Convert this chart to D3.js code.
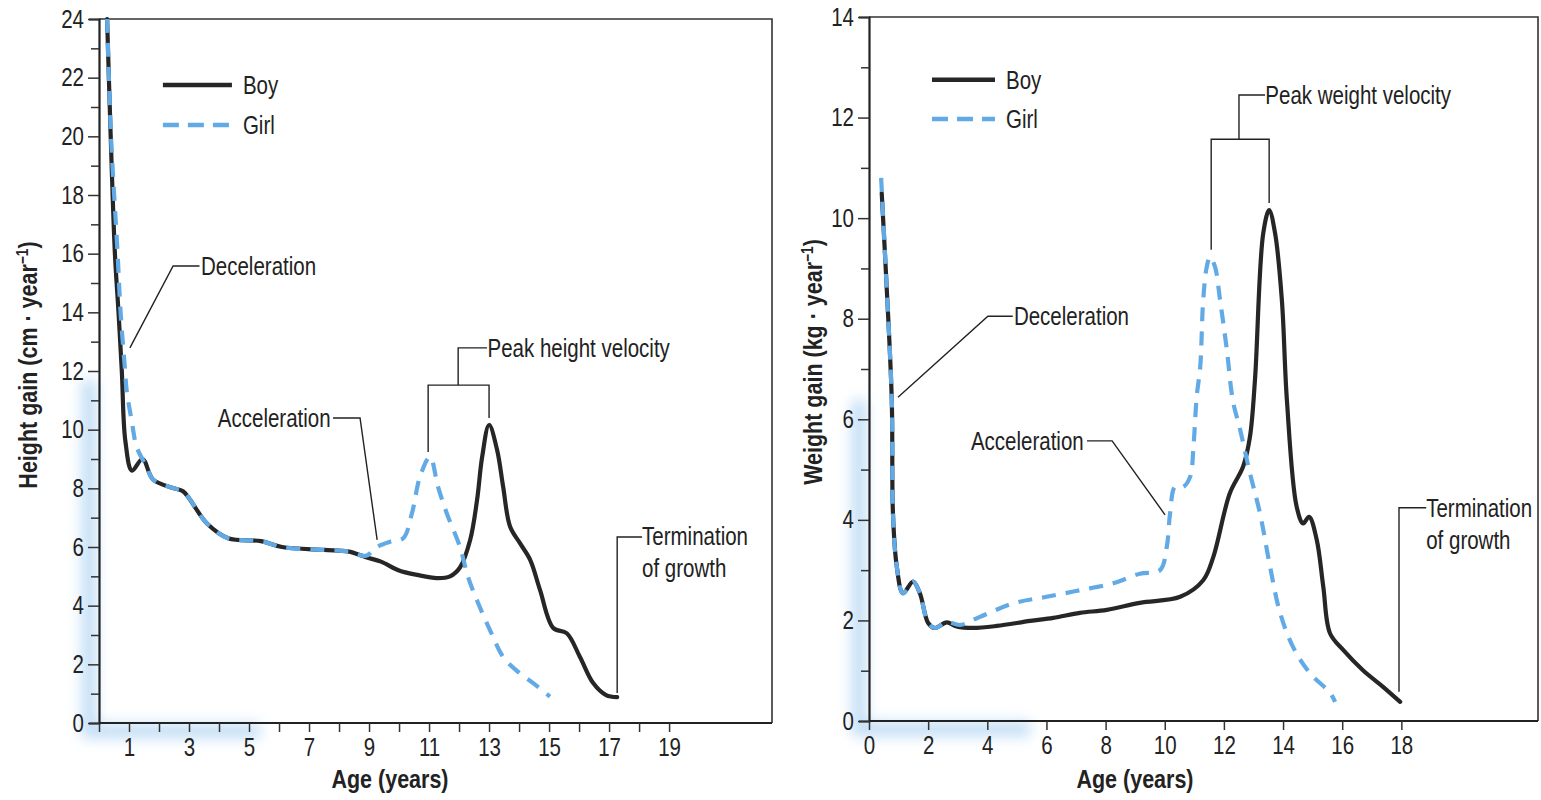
<!DOCTYPE html>
<html>
<head>
<meta charset="utf-8">
<script src="https://cdn.jsdelivr.net/npm/d3@7"></script>
<style>
  body { margin: 0; background: #fff; }
  svg text { font-family: "Liberation Sans", Arial, sans-serif; fill: #222; }
</style>
</head>
<body>
<div id="chart"></div>
<script>
// Height velocity (cm / year)
const heightBoyAge = [0.27, 0.39, 0.53, 0.65, 0.76, 0.88, 1.1, 1.45, 1.8, 2.5, 2.8, 3.6, 4.3, 5.4, 6.1, 7.5, 8.3, 8.9, 9.4, 10.0, 10.6, 11.26, 11.7, 12.03, 12.37, 12.6, 12.77, 13.0, 13.27, 13.47, 13.7, 14.03, 14.37, 14.7, 15.14, 15.59, 16.03, 16.47, 16.9, 17.27];
const heightBoy = [24, 20, 16, 14, 12, 9.6, 8.6, 9.0, 8.3, 8.0, 7.9, 6.8, 6.3, 6.2, 6.0, 5.9, 5.85, 5.65, 5.5, 5.2, 5.05, 4.94, 5.0, 5.3, 6.24, 7.6, 9.07, 10.16, 9.3, 8.05, 6.7, 6.13, 5.56, 4.53, 3.24, 3.06, 2.25, 1.36, 0.95, 0.88];
const heightGirlAge = [0.27, 0.4, 0.62, 0.72, 0.87, 0.92, 1.09, 1.26, 1.59, 1.8, 2.5, 2.8, 3.6, 4.3, 5.4, 6.1, 7.5, 8.3, 8.9, 9.26, 9.7, 10.14, 10.43, 10.7, 11.03, 11.3, 11.59, 12.03, 12.3, 12.59, 13.03, 13.47, 13.9, 14.47, 15.03];
const heightGirl = [24, 20, 16, 14, 12, 11.35, 10.3, 9.4, 8.73, 8.3, 8.0, 7.9, 6.8, 6.3, 6.2, 6.0, 5.9, 5.85, 5.7, 6.0, 6.18, 6.3, 7.15, 8.4, 9.07, 8.05, 7.15, 6.0, 4.98, 4.2, 3.17, 2.25, 1.8, 1.36, 0.9];

// Weight velocity (kg / year)
const weightBoyAge = [0.43, 0.58, 0.77, 0.81, 0.94, 1.15, 1.49, 1.72, 2.0, 2.23, 2.63, 2.96, 3.52, 4.32, 5.45, 6.23, 7.13, 8.04, 9.16, 10.52, 11.3, 11.64, 12.2, 12.65, 12.88, 13.05, 13.33, 13.53, 13.73, 13.96, 14.13, 14.46, 14.68, 14.88, 15.14, 15.36, 15.59, 16.04, 16.7, 17.38, 17.96];
const weightBoy = [10.5, 8.83, 6.38, 4.13, 3.07, 2.54, 2.77, 2.54, 1.95, 1.85, 1.96, 1.88, 1.85, 1.89, 1.99, 2.05, 2.15, 2.21, 2.35, 2.47, 2.8, 3.26, 4.53, 5.06, 5.65, 6.78, 9.7, 10.16, 9.7, 8.37, 6.38, 4.26, 3.93, 4.06, 3.6, 2.67, 1.74, 1.41, 1.01, 0.68, 0.38];
const weightGirlAge = [0.41, 0.58, 0.77, 0.81, 0.94, 1.15, 1.49, 1.72, 2.0, 2.23, 2.63, 3.08, 3.75, 4.88, 6.0, 7.13, 8.26, 9.16, 9.84, 10.07, 10.18, 10.35, 10.63, 10.86, 10.97, 11.08, 11.2, 11.3, 11.42, 11.53, 11.7, 11.87, 12.1, 12.3, 12.55, 12.88, 13.22, 13.56, 13.9, 14.34, 14.91, 15.59, 15.76];
const weightGirl = [10.8, 8.83, 6.38, 4.13, 3.07, 2.54, 2.77, 2.54, 1.95, 1.85, 1.97, 1.91, 2.07, 2.34, 2.47, 2.6, 2.74, 2.93, 3.0, 3.47, 4.13, 4.66, 4.66, 4.86, 5.45, 6.45, 7.05, 8.37, 9.03, 9.23, 9.03, 8.37, 7.38, 6.38, 5.79, 4.93, 4.13, 3.07, 2.15, 1.47, 0.95, 0.56, 0.38];

const heightXLabels = [1, 3, 5, 7, 9, 11, 13, 15, 17, 19];
const heightYLabels = [0, 2, 4, 6, 8, 10, 12, 14, 16, 18, 20, 22, 24];
const weightXLabels = [0, 2, 4, 6, 8, 10, 12, 14, 16, 18];
const weightYLabels = [0, 2, 4, 6, 8, 10, 12, 14];

const width = 1541, height = 800;
const boyColor = "#262626";
const girlColor = "#62aae6";
const fontSize = 25;
const squeeze = 0.82;      // the original uses a condensed face
const squeezeBold = 0.86;

const svg = d3.select("#chart").append("svg")
  .attr("width", width)
  .attr("height", height);

const defs = svg.append("defs");
defs.append("filter").attr("id", "glow")
  .attr("x", "-50%").attr("y", "-50%").attr("width", "200%").attr("height", "200%")
  .append("feGaussianBlur").attr("stdDeviation", 7);

const zip = (xs, ys) => xs.map((x, i) => [x, ys[i]]);

// squeeze text horizontally around its own anchor
function narrow(sel, k, base) {
  sel.each(function () {
    const t = d3.select(this);
    const x = +(t.attr("x") || 0);
    t.attr("x", x / k).attr("transform", (base || "") + ` scale(${k},1)`);
  });
}

function drawPanel(p) {
  const x = d3.scaleLinear().domain([0, p.xMax]).range([p.left, p.right]);
  const y = d3.scaleLinear().domain([0, p.yMax]).range([p.bottom, p.top]);
  const g = svg.append("g");

  // blue scan glow along the axes
  g.append("path")
    .attr("d", `M${p.left - 10},${p.glowTop} L${p.left - 10},${p.bottom + 8} L${p.glowRight},${p.bottom + 8}`)
    .attr("fill", "none").attr("stroke", "#7fb9ec").attr("stroke-width", 14)
    .attr("opacity", 0.5).attr("filter", "url(#glow)");

  // frame
  g.append("path")
    .attr("d", `M${p.left},${p.top} L${p.right},${p.top} L${p.right},${p.bottom}`)
    .attr("fill", "none").attr("stroke", "#333").attr("stroke-width", 1.6);

  // y axis
  const yAxis = d3.axisLeft(y)
    .tickValues(d3.range(0, p.yMax + 1, 1))
    .tickSize(10)
    .tickPadding(5)
    .tickFormat(d => p.yLabels.includes(d) ? d : "");
  const ya = g.append("g").attr("transform", `translate(${p.left},0)`).call(yAxis);
  ya.select(".domain").attr("stroke", "#222").attr("stroke-width", 2.2);
  ya.selectAll(".tick line").attr("stroke", "#333").attr("stroke-width", 1.5)
    .attr("x2", d => p.yLabels.includes(d) ? -11 : -8);
  ya.selectAll(".tick text").attr("font-size", fontSize).style("fill", "#222");
  narrow(ya.selectAll(".tick text"), squeeze);

  // x axis
  const xAxis = d3.axisBottom(x)
    .tickValues(p.xTicks)
    .tickSize(9)
    .tickPadding(6)
    .tickFormat(d => p.xLabels.includes(d) ? d : "");
  const xa = g.append("g").attr("transform", `translate(0,${p.bottom})`).call(xAxis);
  xa.select(".domain").attr("d", `M${p.left},0H${p.right}`).attr("stroke", "#222").attr("stroke-width", 2.2);
  xa.selectAll(".tick line").attr("stroke", "#333").attr("stroke-width", 1.5);
  xa.selectAll(".tick text").attr("font-size", fontSize).style("fill", "#222");
  narrow(xa.selectAll(".tick text"), squeeze);

  // axis titles
  const xt = g.append("text")
    .attr("x", p.xTitleX).attr("y", 788)
    .attr("text-anchor", "middle")
    .attr("font-size", fontSize).attr("font-weight", "bold")
    .text("Age (years)");
  narrow(xt, squeezeBold);
  const yt = g.append("text")
    .attr("text-anchor", "middle")
    .attr("font-size", fontSize).attr("font-weight", "bold");
  yt.append("tspan").text(p.yTitle);
  yt.append("tspan").attr("font-size", 16).attr("dy", -9).text("−1");
  yt.append("tspan").attr("dy", 9).text(")");
  narrow(yt, squeezeBold, `translate(${p.yTitleX},${p.yTitleY}) rotate(-90)`);

  // curves
  const line = d3.line().x(d => x(d[0])).y(d => y(d[1])).curve(d3.curveCatmullRom.alpha(0.5));
  g.append("path").datum(zip(p.boyAge, p.boy))
    .attr("d", line).attr("fill", "none")
    .attr("stroke", boyColor).attr("stroke-width", 4.2)
    .attr("stroke-linejoin", "round").attr("stroke-linecap", "round");
  g.append("path").datum(zip(p.girlAge, p.girl))
    .attr("d", line).attr("fill", "none")
    .attr("stroke", girlColor).attr("stroke-width", 4.2)
    .attr("stroke-dasharray", "14,10");

  // legend
  const lg = p.legend;
  g.append("line")
    .attr("x1", x(lg.x0)).attr("x2", x(lg.x1)).attr("y1", y(lg.boyY)).attr("y2", y(lg.boyY))
    .attr("stroke", boyColor).attr("stroke-width", 4.5);
  g.append("line")
    .attr("x1", x(lg.x0)).attr("x2", x(lg.x1)).attr("y1", y(lg.girlY)).attr("y2", y(lg.girlY))
    .attr("stroke", girlColor).attr("stroke-width", 4.5).attr("stroke-dasharray", "16,9");
  const l1 = g.append("text").attr("x", x(lg.x1) + 11).attr("y", y(lg.boyY) + 9).attr("font-size", fontSize).text("Boy");
  const l2 = g.append("text").attr("x", x(lg.x1) + 11).attr("y", y(lg.girlY) + 9).attr("font-size", fontSize).text("Girl");
  narrow(l1, squeeze);
  narrow(l2, squeeze);

  // annotations: leader lines in data units
  const leader = d3.line().x(d => x(d[0])).y(d => y(d[1]));
  p.notes.forEach(n => {
    g.append("path").attr("d", leader(n.path))
      .attr("fill", "none").attr("stroke", "#222").attr("stroke-width", 1.4);
    n.text.forEach((t, i) => {
      const tx = g.append("text")
        .attr("x", x(n.tx)).attr("y", y(n.ty) + 9 + i * 32)
        .attr("text-anchor", n.anchor || "start")
        .attr("font-size", fontSize)
        .text(t);
      narrow(tx, squeeze);
    });
  });
}

drawPanel({
  left: 99, right: 772, top: 19, bottom: 723,
  xMax: 22.43, yMax: 24,
  xTicks: d3.range(0, 20), xLabels: heightXLabels, yLabels: heightYLabels,
  boyAge: heightBoyAge, boy: heightBoy, girlAge: heightGirlAge, girl: heightGirl,
  xTitleX: 390, yTitleX: 37, yTitleY: 365,
  yTitle: "Height gain (cm · year",
  glowTop: 380, glowRight: 260,
  legend: { x0: 2.13, x1: 4.43, boyY: 21.75, girlY: 20.39 },
  notes: [
    { text: ["Deceleration"], tx: 3.4, ty: 15.58, path: [[3.35, 15.58], [2.47, 15.58], [1.03, 12.79]] },
    { text: ["Acceleration"], tx: 7.72, ty: 10.4, anchor: "end", path: [[7.8, 10.4], [8.7, 10.4], [9.27, 6.24]] },
    { text: ["Peak height velocity"], tx: 12.95, ty: 12.79,
      path: [[12.93, 12.79], [11.97, 12.79], [11.97, 11.52], [10.97, 11.52], [10.97, 9.24], [10.97, 11.52], [13.0, 11.52], [13.0, 10.4]] },
    { text: ["Termination", "of growth"], tx: 18.1, ty: 6.38, path: [[18.1, 6.34], [17.27, 6.34], [17.27, 1.02]] }
  ]
});

drawPanel({
  left: 869, right: 1538, top: 17, bottom: 721,
  xMax: 22.62, yMax: 14,
  xTicks: weightXLabels, xLabels: weightXLabels, yLabels: weightYLabels,
  boyAge: weightBoyAge, boy: weightBoy, girlAge: weightGirlAge, girl: weightGirl,
  xTitleX: 1135, yTitleX: 822, yTitleY: 362,
  yTitle: "Weight gain (kg · year",
  glowTop: 400, glowRight: 1030,
  legend: { x0: 2.13, x1: 4.26, boyY: 12.75, girlY: 11.97 },
  notes: [
    { text: ["Deceleration"], tx: 4.9, ty: 8.05, path: [[4.86, 8.05], [4.02, 8.05], [0.98, 6.44]] },
    { text: ["Acceleration"], tx: 7.26, ty: 5.57, anchor: "end", path: [[7.37, 5.57], [8.22, 5.57], [10.01, 4.1]] },
    { text: ["Peak weight velocity"], tx: 13.4, ty: 12.45,
      path: [[13.39, 12.45], [12.51, 12.45], [12.51, 11.57], [11.57, 11.57], [11.57, 9.37], [11.57, 11.57], [13.53, 11.57], [13.53, 10.3]] },
    { text: ["Termination", "of growth"], tx: 18.84, ty: 4.24, path: [[18.84, 4.24], [17.92, 4.24], [17.92, 0.58]] }
  ]
});
</script>
</body>
</html>
